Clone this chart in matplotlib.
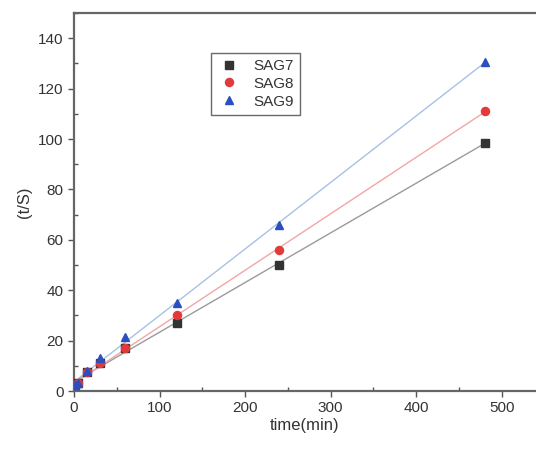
import numpy as np
import matplotlib
matplotlib.use('Agg')
import matplotlib.pyplot as plt
from matplotlib.ticker import MultipleLocator

plt.rcParams['font.family'] = ['Liberation Sans', 'DejaVu Sans']

# time points (min)
t = [1, 5, 15, 30, 60, 120, 240, 480]
sag7 = [2.5, 3.0, 7.5, 11.0, 17.0, 27.0, 50.0, 98.5]
sag8 = [2.5, 3.0, 7.5, 11.0, 17.0, 30.0, 56.0, 111.0]
sag9 = [2.5, 3.2, 8.0, 13.0, 21.5, 35.0, 66.0, 130.5]
names = ['SAG7', 'SAG8', 'SAG9']

fig = plt.figure(figsize=(5.36, 4.51), dpi=100)
ax = fig.add_axes([0.138, 0.133, 0.862, 0.838])

series = [sag7, sag8, sag9]
mk = ['s', 'o', '^']
mcol = ['#333333', '#e23a3a', '#2a4fc0']
lcol = ['#9a9a9a', '#f2a6a6', '#a9c0e6']

for y, m, mc, lc, nm in zip(series, mk, mcol, lcol, names):
    k, b = np.polyfit(t, y, 1)
    xx = np.array([0, 480])
    ax.plot(xx, k * xx + b, color=lc, lw=1.0, zorder=1)
    ax.plot(t, y, ls='none', marker=m, color=mc, ms=5.8, label=nm, zorder=3)

ax.set_xlim(0, 540)
ax.set_ylim(0, 150)
ax.xaxis.set_major_locator(MultipleLocator(100))
ax.xaxis.set_minor_locator(MultipleLocator(50))
ax.yaxis.set_major_locator(MultipleLocator(20))
ax.yaxis.set_minor_locator(MultipleLocator(10))
ax.tick_params(which='major', direction='out', length=4, width=1, colors='#555555',
               labelsize=11, labelcolor='#333333')
ax.tick_params(which='minor', direction='in', length=3, width=1, colors='#555555')
ax.spines['right'].set_visible(False)
for s in ['left', 'bottom', 'top']:
    ax.spines[s].set_color('#666666')
    ax.spines[s].set_linewidth(1.6)

ax.set_xlabel('time(min)', fontsize=12, color='#333333', labelpad=2)
ax.set_ylabel('(t/S)', fontsize=12, color='#333333', labelpad=4)

leg = ax.legend(loc='upper left', bbox_to_anchor=(0.28, 0.915), fontsize=11,
                frameon=True, fancybox=False, edgecolor='#444444',
                handletextpad=0.8, borderpad=0.4, labelspacing=0.25, handlelength=1.6)
leg.get_frame().set_linewidth(1.0)
for txt in leg.get_texts():
    txt.set_color('#333333')

fig.savefig('out.png', dpi=100)
